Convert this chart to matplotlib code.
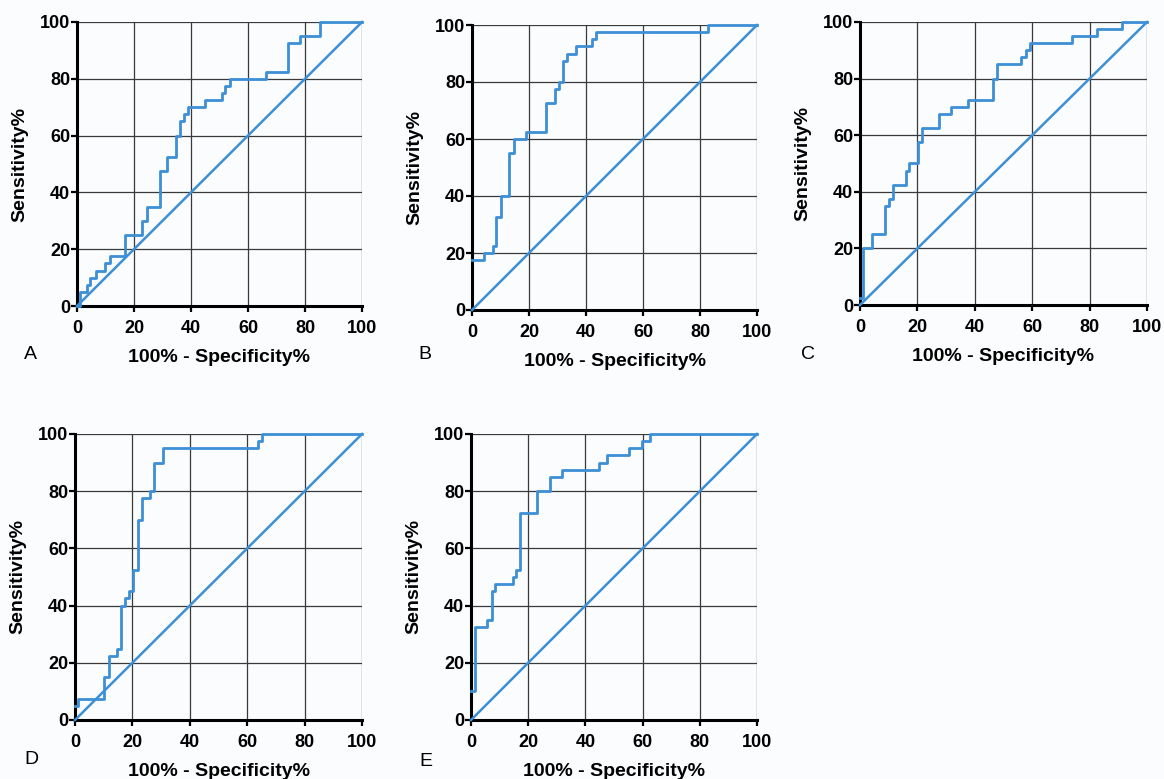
import matplotlib
matplotlib.use('Agg')
import matplotlib.pyplot as plt

plt.rcParams['font.family'] = ['Liberation Sans', 'DejaVu Sans']

# ROC 曲线数据 (100% - 特异度, 灵敏度)，阶梯点：在 x 处上升到 y
fpr_a = [0, 1.2, 3.5, 4.6, 6.8, 9.9, 11.5, 17.0, 22.8, 24.6, 29.0, 31.6, 34.6, 36.0,
         37.4, 39.0, 44.8, 50.8, 52.0, 53.6, 66.4, 73.9, 78.1, 85.4, 100]
tpr_a = [0, 5, 7.5, 10, 12.5, 15, 17.5, 25, 30, 35, 47.5, 52.5, 60, 65,
         67.5, 70, 72.5, 75, 77.5, 80, 82.5, 92.5, 95, 100, 100]

fpr_b = [0, 4.3, 7.3, 8.5, 10.2, 13.1, 14.6, 18.9, 26.1, 29.2, 30.5, 31.9, 33.3,
         36.4, 42.1, 43.6, 82.7, 100]
tpr_b = [17.5, 20, 22.5, 32.5, 40, 55, 60, 62.5, 72.5, 77.5, 80, 87.5, 90,
         92.5, 95, 97.5, 100, 100]

fpr_c = [0, 1.2, 4.1, 8.7, 10.1, 11.6, 15.9, 17.2, 20.1, 21.7, 27.6, 31.7, 37.8,
         46.3, 47.9, 56.2, 57.8, 59.3, 73.8, 82.6, 91.3, 100]
tpr_c = [2.5, 20, 25, 35, 37.5, 42.5, 47.5, 50, 57.5, 62.5, 67.5, 70, 72.5,
         80, 85, 87.5, 90, 92.5, 95, 97.5, 100, 100]

fpr_d = [0, 1.0, 10.2, 11.8, 14.7, 15.9, 17.4, 18.9, 20.3, 21.8, 23.2, 26.1, 27.6,
         30.5, 63.8, 65.2, 100]
tpr_d = [5, 7.5, 15, 22.5, 25, 40, 42.5, 45, 52.5, 70, 77.5, 80, 90,
         95, 97.5, 100, 100]

fpr_e = [0, 1.3, 5.5, 7.2, 8.4, 14.6, 15.8, 17.2, 23.2, 27.7, 31.7, 44.9, 47.7,
         55.1, 59.7, 62.7, 100]
tpr_e = [10, 32.5, 35, 45, 47.5, 50, 52.5, 72.5, 80, 85, 87.5, 90, 92.5,
         95, 97.5, 100, 100]

panels = ['A', 'B', 'C', 'D', 'E']
curves = [(fpr_a, tpr_a), (fpr_b, tpr_b), (fpr_c, tpr_c), (fpr_d, tpr_d), (fpr_e, tpr_e)]
ticks = [0, 20, 40, 60, 80, 100]

W, H = 1164, 779
# 各子图在画布上的像素框 (左, 右, 上, 下)，以及面板字母的像素位置
boxes = [(77, 362, 22, 306), (472, 757, 25, 310), (860, 1147, 22, 305),
         (75, 362, 434, 720), (471, 757, 434, 720)]
letter_pos = [(30, 355), (425, 355), (808, 355), (31, 760), (426, 762)]

blue = '#3d8fd6'
fig = plt.figure(figsize=(W / 100, H / 100), dpi=100)
fig.patch.set_facecolor('#fbfcfe')

for name, (fx, ty), (l, r, t, b), (lx, ly) in zip(panels, curves, boxes, letter_pos):
    ax = fig.add_axes([l / W, 1 - b / H, (r - l) / W, (b - t) / H])
    ax.set_facecolor('#fbfcfe')
    ax.set_xlim(0, 100)
    ax.set_ylim(0, 100)
    ax.set_xticks(ticks)
    ax.set_yticks(ticks)
    ax.grid(True, color='#3a3a3a', linewidth=0.9)
    ax.set_axisbelow(True)
    for s in ['top', 'right']:
        ax.spines[s].set_visible(False)
    for s in ['left', 'bottom']:
        ax.spines[s].set_linewidth(2.2)
        ax.spines[s].set_color('black')
    ax.tick_params(axis='both', direction='out', length=4, width=1.6, labelsize=13)
    ax.tick_params(axis='x', pad=6)
    ax.tick_params(axis='y', pad=1)
    for lab in ax.get_xticklabels() + ax.get_yticklabels():
        lab.set_fontweight('bold')
    ax.plot([0, 100], [0, 100], color=blue, linewidth=1.8, clip_on=False, zorder=3)
    ax.plot(fx, ty, drawstyle='steps-post', color=blue, linewidth=2.0, clip_on=False, zorder=4)
    ax.set_xlabel('100% - Specificity%', fontsize=14, fontweight='bold')
    ax.set_ylabel('Sensitivity%', fontsize=14, fontweight='bold')
    ax.xaxis.set_label_coords(0.5, -0.152)
    ax.yaxis.set_label_coords(-0.17, 0.5)
    fig.text(lx / W, 1 - ly / H, name, fontsize=14, ha='center', va='center')

plt.savefig('out.png', dpi=100, facecolor=fig.get_facecolor())
